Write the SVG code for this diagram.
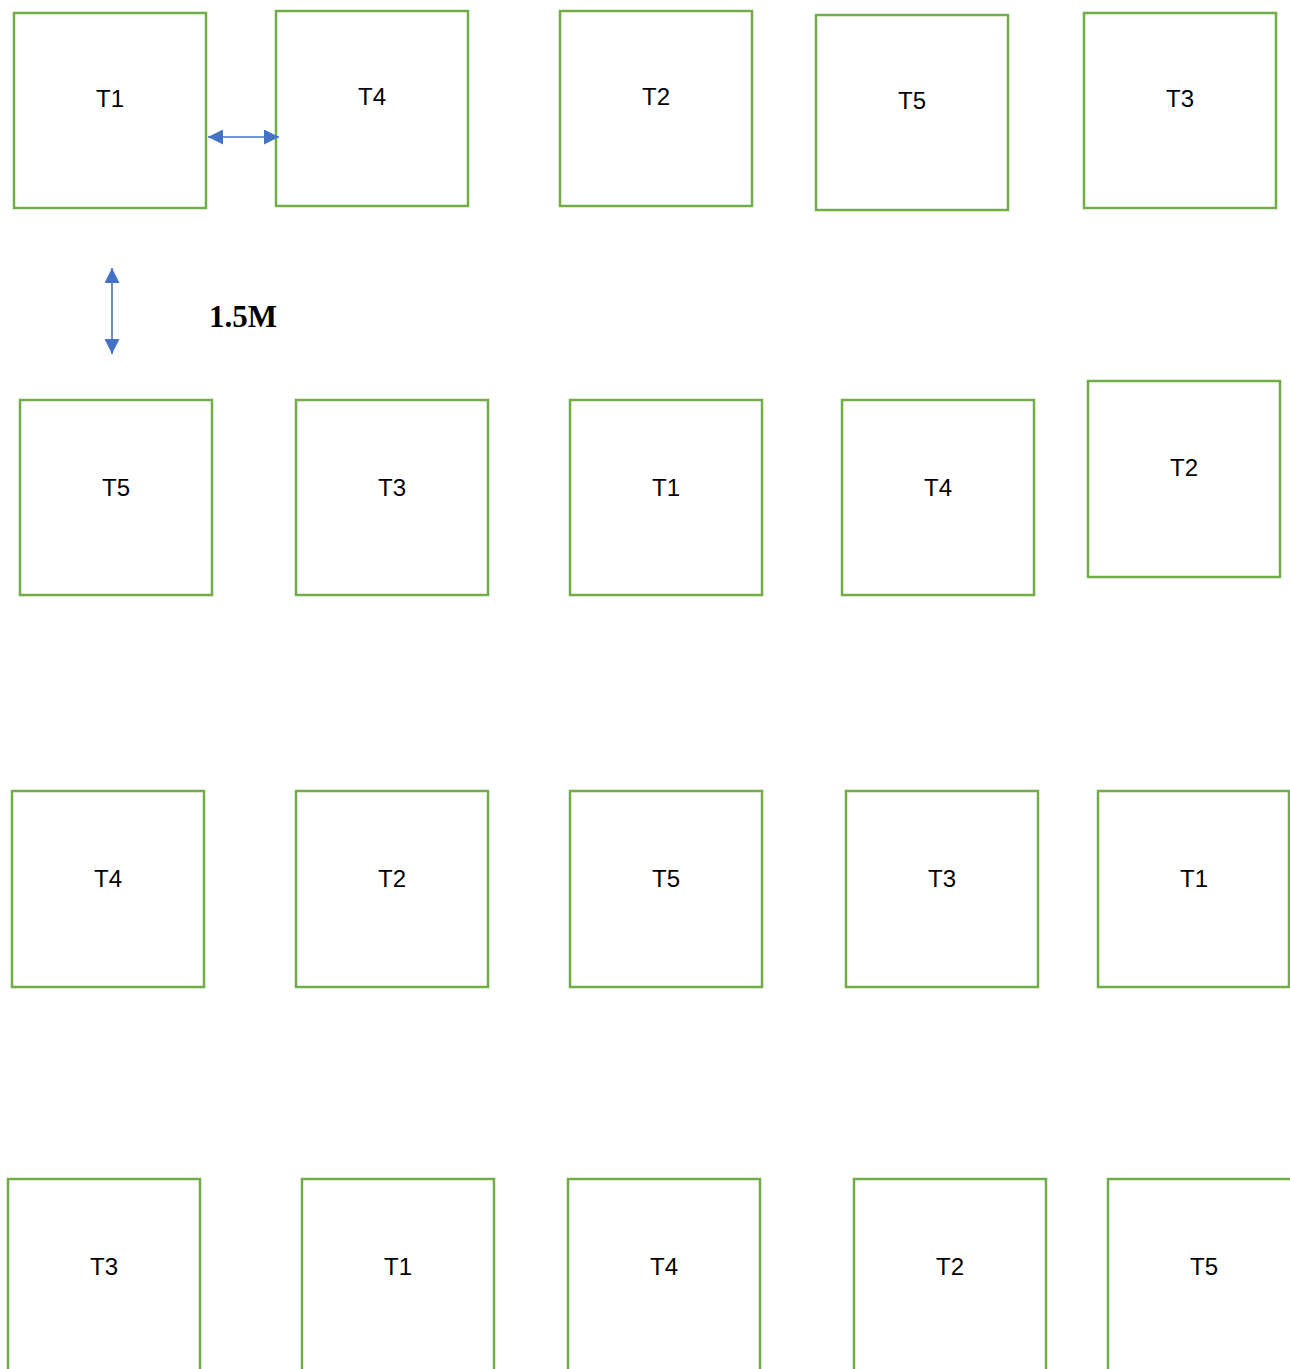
<svg xmlns="http://www.w3.org/2000/svg" width="1290" height="1369" viewBox="0 0 1290 1369">
<style>
.box{fill:#fff;stroke:#70AD47;stroke-width:2.5}
.lbl{font-family:"Liberation Sans",Arial,sans-serif;font-size:24px;fill:#000;text-anchor:middle}
.dim{font-family:"Liberation Serif","Times New Roman",serif;font-size:31px;font-weight:bold;fill:#000}
.conn{stroke:#4472C4;stroke-width:1.6;fill:none;marker-start:url(#ah);marker-end:url(#ah)}
</style>
<defs>
<marker id="ah" viewBox="0 0 10 10" refX="10" refY="5" markerWidth="15" markerHeight="15" markerUnits="userSpaceOnUse" orient="auto-start-reverse">
<path d="M0,0 L10,5 L0,10 z" fill="#4472C4"/>
</marker>
</defs>
<rect width="1290" height="1369" fill="#fff"/>
<g id="r1-T1"><rect class="box" x="14" y="13" width="192" height="195"/><text class="lbl" x="110" y="107">T1</text></g>
<g id="r1-T4"><rect class="box" x="276" y="11" width="192" height="195"/><text class="lbl" x="372" y="105">T4</text></g>
<g id="r1-T2"><rect class="box" x="560" y="11" width="192" height="195"/><text class="lbl" x="656" y="105">T2</text></g>
<g id="r1-T5"><rect class="box" x="816" y="15" width="192" height="195"/><text class="lbl" x="912" y="109">T5</text></g>
<g id="r1-T3"><rect class="box" x="1084" y="13" width="192" height="195"/><text class="lbl" x="1180" y="107">T3</text></g>

<g id="r2-T5"><rect class="box" x="20" y="400" width="192" height="195"/><text class="lbl" x="116" y="496">T5</text></g>
<g id="r2-T3"><rect class="box" x="296" y="400" width="192" height="195"/><text class="lbl" x="392" y="496">T3</text></g>
<g id="r2-T1"><rect class="box" x="570" y="400" width="192" height="195"/><text class="lbl" x="666" y="496">T1</text></g>
<g id="r2-T4"><rect class="box" x="842" y="400" width="192" height="195"/><text class="lbl" x="938" y="496">T4</text></g>
<g id="r2-T2"><rect class="box" x="1088" y="381" width="192" height="196"/><text class="lbl" x="1184" y="476">T2</text></g>

<g id="r3-T4"><rect class="box" x="12" y="791" width="192" height="196"/><text class="lbl" x="108" y="887">T4</text></g>
<g id="r3-T2"><rect class="box" x="296" y="791" width="192" height="196"/><text class="lbl" x="392" y="887">T2</text></g>
<g id="r3-T5"><rect class="box" x="570" y="791" width="192" height="196"/><text class="lbl" x="666" y="887">T5</text></g>
<g id="r3-T3"><rect class="box" x="846" y="791" width="192" height="196"/><text class="lbl" x="942" y="887">T3</text></g>
<g id="r3-T1"><rect class="box" x="1098" y="791" width="191" height="196"/><text class="lbl" x="1194" y="887">T1</text></g>

<g id="r4-T3"><rect class="box" x="8" y="1179" width="192" height="196"/><text class="lbl" x="104" y="1275">T3</text></g>
<g id="r4-T1"><rect class="box" x="302" y="1179" width="192" height="196"/><text class="lbl" x="398" y="1275">T1</text></g>
<g id="r4-T4"><rect class="box" x="568" y="1179" width="192" height="196"/><text class="lbl" x="664" y="1275">T4</text></g>
<g id="r4-T2"><rect class="box" x="854" y="1179" width="192" height="196"/><text class="lbl" x="950" y="1275">T2</text></g>
<g id="r4-T5"><rect class="box" x="1108" y="1179" width="192" height="196"/><text class="lbl" x="1204" y="1275">T5</text></g>

<g id="connectors">
<line class="conn" x1="208" y1="137" x2="279" y2="137"/>
<line class="conn" x1="112" y1="268" x2="112" y2="354"/>
</g>
<text class="dim" x="209" y="327">1.5M</text>
</svg>
